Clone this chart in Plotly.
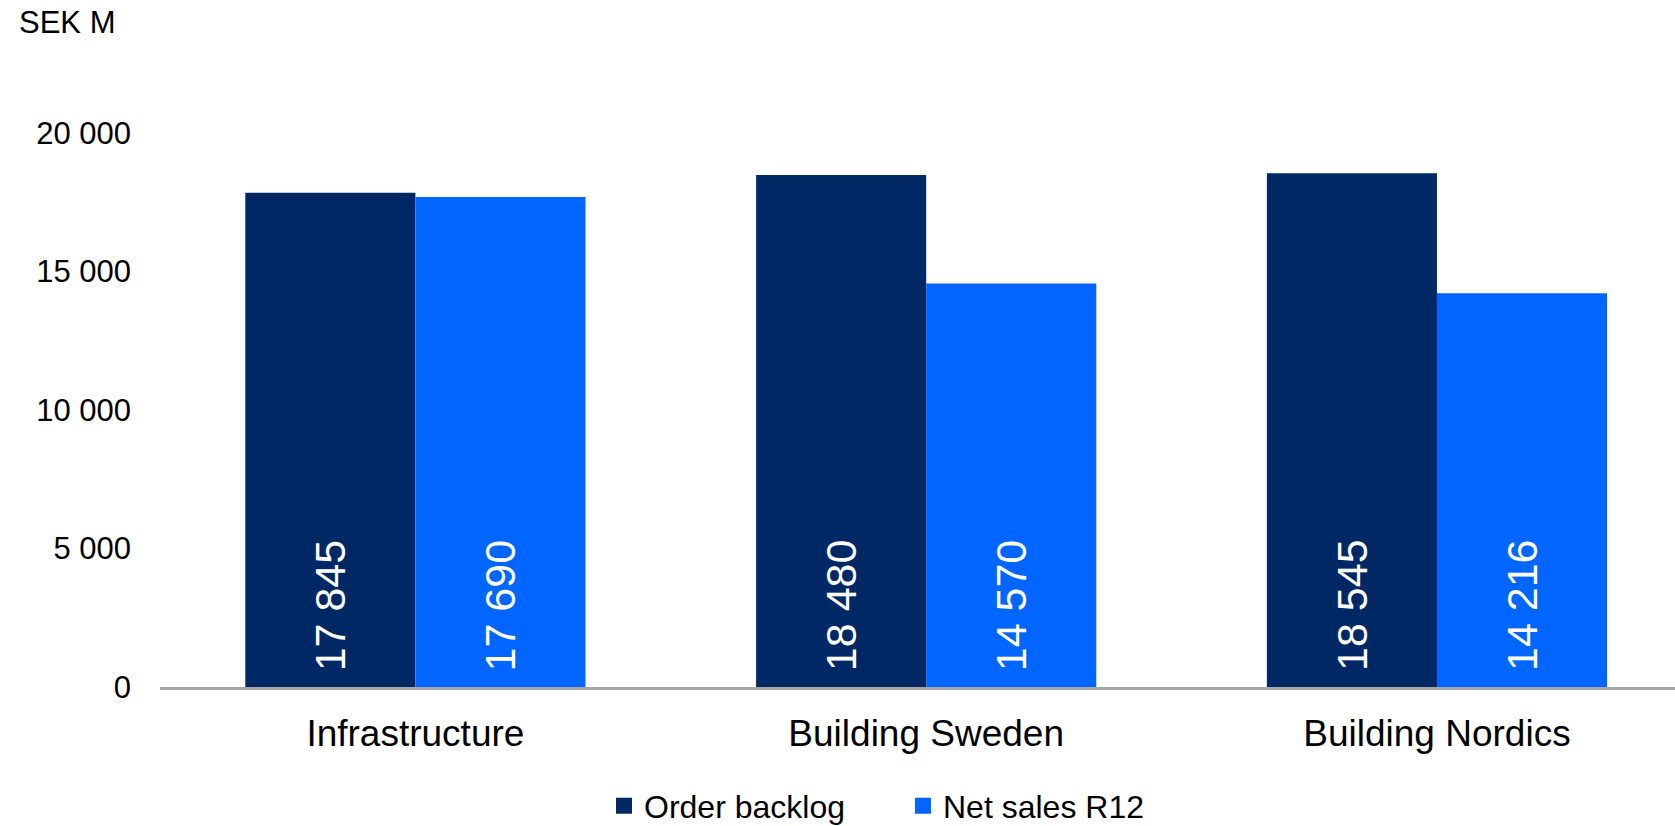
import plotly.graph_objects as go

# Segment figures, SEK M
categories = ["Infrastructure", "Building Sweden", "Building Nordics"]
order_backlog = [17845, 18480, 18545]
net_sales_r12 = [17690, 14570, 14216]

y_ticks = [0, 5000, 10000, 15000, 20000]

FONT = "Arial, 'Liberation Sans', sans-serif"
NAVY = "#002864"
BLUE = "#0066FF"

W, H = 1675, 826
L, R, T, B = 160, 0, 133, 139
PLOT_W, PLOT_H = W - L - R, H - T - B
BARGAP = 0.334

series = [("Order backlog", order_backlog, NAVY),
          ("Net sales R12", net_sales_r12, BLUE)]

fig = go.Figure()
for name, vals, col in series:
    fig.add_trace(go.Bar(
        x=categories, y=vals, name=name, showlegend=False,
        marker=dict(color=col, line=dict(width=0)),
        hoverinfo="x+y",
    ))
    # legend entry with a larger square swatch
    fig.add_trace(go.Scatter(
        x=[None], y=[None], name=name, mode="markers",
        marker=dict(symbol="square", size=16, color=col),
    ))

# white value labels written upwards from the base of each bar
half = (1 - BARGAP) / 4
annotations = []
for k, (name, vals, col) in enumerate(series):
    off = -half if k == 0 else half
    for i, v in enumerate(vals):
        annotations.append(dict(
            x=i + off, y=0, xref="x", yref="y",
            text=f"{v:,}".replace(",", " "),
            textangle=-90, xanchor="center", yanchor="bottom",
            yshift=14, showarrow=False,
            font=dict(family=FONT, size=43, color="white"),
        ))

annotations.append(dict(
    text="SEK M", xref="paper", yref="paper",
    x=(17 - L) / PLOT_W, y=(687 - 22) / PLOT_H,
    xanchor="left", yanchor="middle", showarrow=False,
    font=dict(family=FONT, size=31, color="black"),
))

fig.update_layout(
    width=W, height=H,
    margin=dict(l=L, r=R, t=T, b=B, pad=0, autoexpand=False),
    paper_bgcolor="white", plot_bgcolor="white",
    barmode="group", bargap=BARGAP, bargroupgap=0,
    separators=", ",
    font=dict(family=FONT, color="black"),
    xaxis=dict(
        range=[-0.5, 2.466],
        showline=True, linecolor="#A6A6A6", linewidth=3,
        showgrid=False, zeroline=False, ticks="",
        tickfont=dict(family=FONT, size=37, color="black"),
        ticklabelstandoff=12,
    ),
    yaxis=dict(
        range=[0, 20000],
        tickvals=y_ticks, tickformat=",d",
        showline=False, showgrid=False, zeroline=False, ticks="",
        tickfont=dict(family=FONT, size=31, color="black"),
        ticklabelstandoff=28,
    ),
    legend=dict(
        orientation="h",
        x=(604 - L) / PLOT_W, xanchor="left",
        y=(687 - 806) / PLOT_H, yanchor="middle",
        font=dict(family=FONT, size=32, color="black"),
        entrywidth=254, entrywidthmode="pixels",
        bgcolor="rgba(0,0,0,0)",
    ),
    annotations=annotations,
)

fig.write_html("out.html")
